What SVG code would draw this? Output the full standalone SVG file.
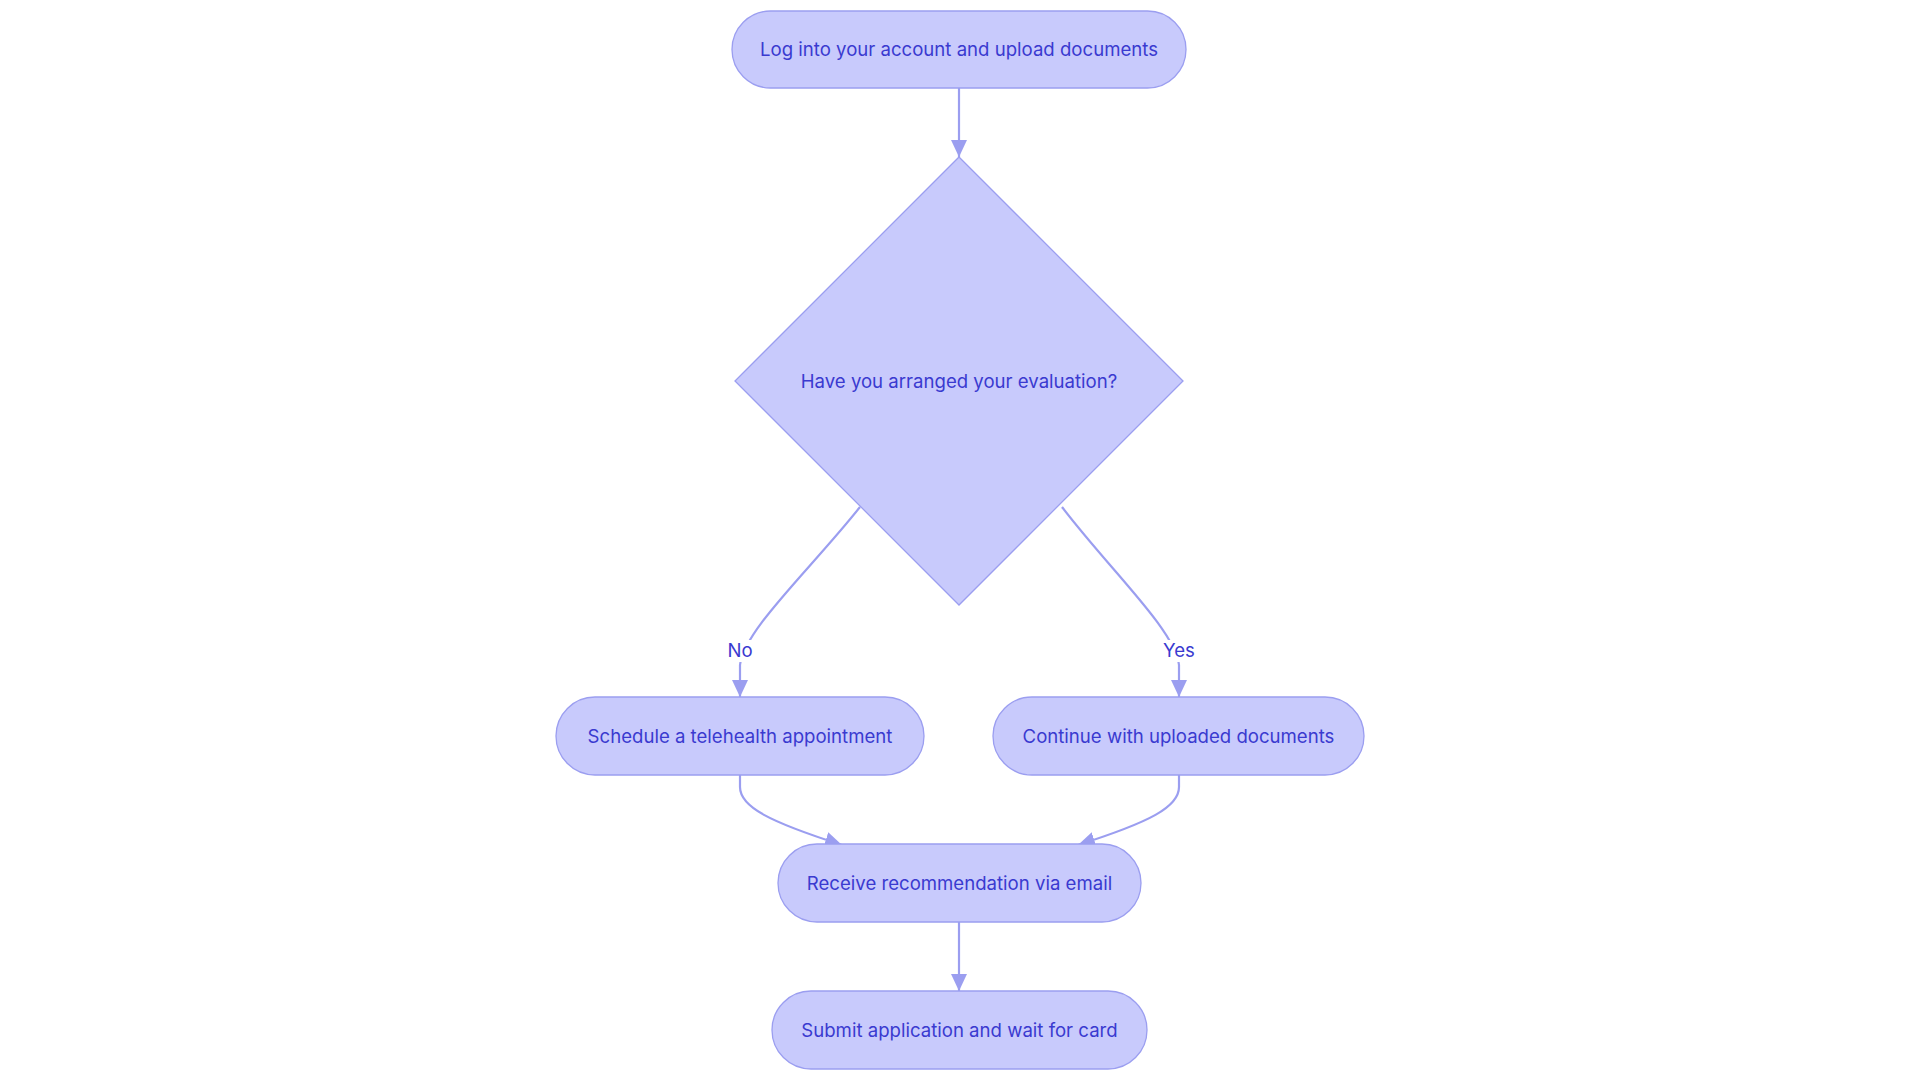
<svg xmlns="http://www.w3.org/2000/svg" width="1920" height="1083" viewBox="0 0 1920 1083">
  <style>
    .node { fill: #C8CAFC; stroke: #9B9EF0; stroke-width: 1.3; }
    .label { font-family: "Inter", "Open Sans", "Liberation Sans", sans-serif; font-size: 18.6px; fill: #3A3AD0; text-anchor: middle; }
    .edge { fill: none; stroke: #9B9EF0; stroke-width: 2.2; }
    .elbg { fill: #FFFFFF; }
  </style>
  <defs>
    <marker id="arrow" markerUnits="userSpaceOnUse" markerWidth="17" markerHeight="16" refX="17" refY="8" orient="auto">
      <path d="M0,0 L17,8 L0,16 z" fill="#9B9EF0"/>
    </marker>
  </defs>
  <rect width="1920" height="1083" fill="#FFFFFF"/>

  <g id="connectors">
    <path class="edge" d="M959,88 L959,157" marker-end="url(#arrow)"/>
    <path class="edge" d="M860,507 C810,570 744,630 740,665 L740,697" marker-end="url(#arrow)"/>
    <path class="edge" d="M1062,507 C1110,570 1175,630 1179,665 L1179,697" marker-end="url(#arrow)"/>
    <path class="edge" d="M740,775 L740,787 C740,807 770,822 842,845" marker-end="url(#arrow)"/>
    <path class="edge" d="M1179,775 L1179,787 C1179,807 1150,822 1078,845" marker-end="url(#arrow)"/>
    <path class="edge" d="M959,922 L959,991" marker-end="url(#arrow)"/>
    <g id="edge-label-no">
      <rect class="elbg" x="726" y="640" width="29" height="22"/>
      <text class="label" x="740" y="657">No</text>
    </g>
    <g id="edge-label-yes">
      <rect class="elbg" x="1160" y="640" width="38" height="22"/>
      <text class="label" x="1179" y="657">Yes</text>
    </g>
  </g>

  <g id="node-login">
    <rect class="node" x="732" y="11" width="454" height="77" rx="38.5"/>
    <text class="label" x="959" y="56">Log into your account and upload documents</text>
  </g>
  <g id="node-decision">
    <polygon class="node" points="959,157 1183,381 959,605 735,381"/>
    <text class="label" x="959" y="388">Have you arranged your evaluation?</text>
  </g>
  <g id="node-schedule">
    <rect class="node" x="556" y="697" width="368" height="78" rx="39"/>
    <text class="label" x="740" y="743">Schedule a telehealth appointment</text>
  </g>
  <g id="node-continue">
    <rect class="node" x="993" y="697" width="371" height="78" rx="39"/>
    <text class="label" x="1178.5" y="743">Continue with uploaded documents</text>
  </g>
  <g id="node-receive">
    <rect class="node" x="778" y="844" width="363" height="78" rx="39"/>
    <text class="label" x="959.5" y="890">Receive recommendation via email</text>
  </g>
  <g id="node-submit">
    <rect class="node" x="772" y="991" width="375" height="78" rx="39"/>
    <text class="label" x="959.5" y="1037">Submit application and wait for card</text>
  </g>
</svg>
